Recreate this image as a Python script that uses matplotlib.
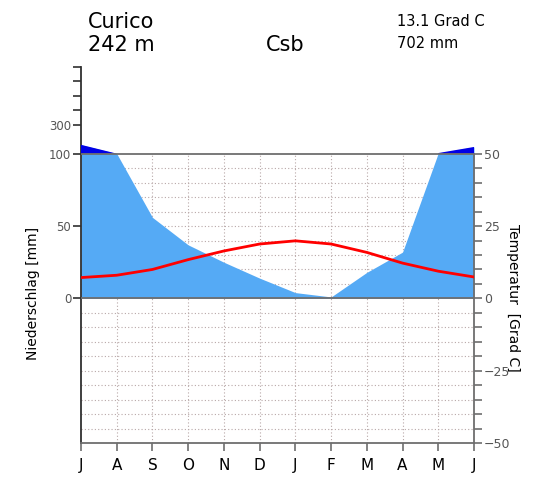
import numpy as np
import matplotlib.pyplot as plt

# data to plot (Jul .. Jun)
months = ['J', 'A', 'S', 'O', 'N', 'D', 'J', 'F', 'M', 'A', 'M', 'J']
precip = [162, 101, 56, 37, 25, 14, 4, 1, 18, 32, 105, 147]   # mm
temp = [7.2, 8.0, 10.0, 13.4, 16.4, 18.8, 19.9, 18.8, 15.9, 12.2, 9.4, 7.4]  # Grad C

station = 'Curico'
height = '242 m'
climate = 'Csb'
mean_temp = '13.1 Grad C'
total_precip = '702 mm'


def scale_precip(p):
    # 10 mm = 5 Grad C up to 100 mm, above that 100 mm = 5 Grad C
    p = np.asarray(p, dtype=float)
    return np.where(p <= 100, p / 2.0, 50 + (p - 100) / 20.0)


x = np.arange(len(months))
yp = scale_precip(precip)

light = '#55aaf5'
dark = '#0000e6'
axcol = '#6e6e6e'
gridcol = '#b8a8a8'

fig = plt.figure(figsize=(5.43, 4.78), dpi=100)
ax = fig.add_axes([81 / 543, 35 / 478, 393 / 543, 376 / 478])

ax.set_xlim(0, len(months) - 1)
ax.set_ylim(-50, 80)

# grid
for g in np.arange(-45, 50, 5):
    if g == 0:
        continue
    ax.plot([0, 11], [g, g], color=gridcol, lw=0.8, ls=(0, (1, 2)), zorder=1)
for xi in x[1:-1]:
    ax.plot([xi, xi], [-50, 50], color=gridcol, lw=0.8, ls=(0, (1, 2)), zorder=1)

# precipitation
ax.fill_between(x, 0, yp, color=light, lw=0, zorder=2)
ax.fill_between(x, 50, yp, where=yp > 50, interpolate=True, color=dark, lw=0, zorder=3)

# temperature
ax.plot(x, temp, color='#ff0000', lw=2, zorder=5)

ax.axhline(50, color=axcol, lw=1.3, zorder=4)
ax.axhline(0, color=axcol, lw=1.3, zorder=4)

for side in ['top']:
    ax.spines[side].set_visible(False)
ax.spines['left'].set_color('#303030')
ax.spines['left'].set_linewidth(1.3)
ax.spines['bottom'].set_color(axcol)
ax.spines['bottom'].set_linewidth(1.3)
ax.spines['right'].set_bounds(-50, 50)
ax.spines['right'].set_color(axcol)
ax.spines['right'].set_linewidth(1.3)

ax.set_xticks(x)
ax.set_xticklabels(months, fontsize=11)
ax.tick_params(axis='x', direction='out', length=6, width=1.2, color=axcol, pad=5)

ax.set_yticks([0, 25, 50, 60, 65, 70, 75, 80])
ax.set_yticklabels(['0', '50', '100', '300', '', '', '', ''], fontsize=8.5, color='#555555')
ax.tick_params(axis='y', direction='out', length=6, width=1.2, color='#303030', pad=1)
ax.set_ylabel('Niederschlag [mm]', fontsize=10)
ax.yaxis.set_label_coords(-0.104, 0.399)

ax2 = ax.twinx()
ax2.set_ylim(ax.get_ylim())
for side in ['top', 'left', 'bottom']:
    ax2.spines[side].set_visible(False)
ax2.spines['right'].set_visible(False)
ax2.set_yticks([-50, -25, 0, 25, 50])
ax2.set_yticklabels(['\u221250', '\u221225', '0', '25', '50'], fontsize=9, color='#555555')
ax2.set_yticks(np.arange(-45, 50, 5), minor=True)
ax2.tick_params(axis='y', which='both', direction='out', length=6, width=1.2, color=axcol, pad=1)
ax2.set_ylabel('Temperatur  [Grad C]', fontsize=10, rotation=270)
ax2.yaxis.set_label_coords(1.117, 0.386)

fig.text(88 / 543, 1 - 22 / 478, station, fontsize=15, va='center', ha='left')
fig.text(88 / 543, 1 - 45 / 478, height, fontsize=15, va='center', ha='left')
fig.text(285 / 543, 1 - 45 / 478, climate, fontsize=15, va='center', ha='center')
fig.text(397 / 543, 1 - 21 / 478, mean_temp, fontsize=10.5, va='center', ha='left')
fig.text(397 / 543, 1 - 43 / 478, total_precip, fontsize=10.5, va='center', ha='left')

fig.savefig('out.png', dpi=100)
